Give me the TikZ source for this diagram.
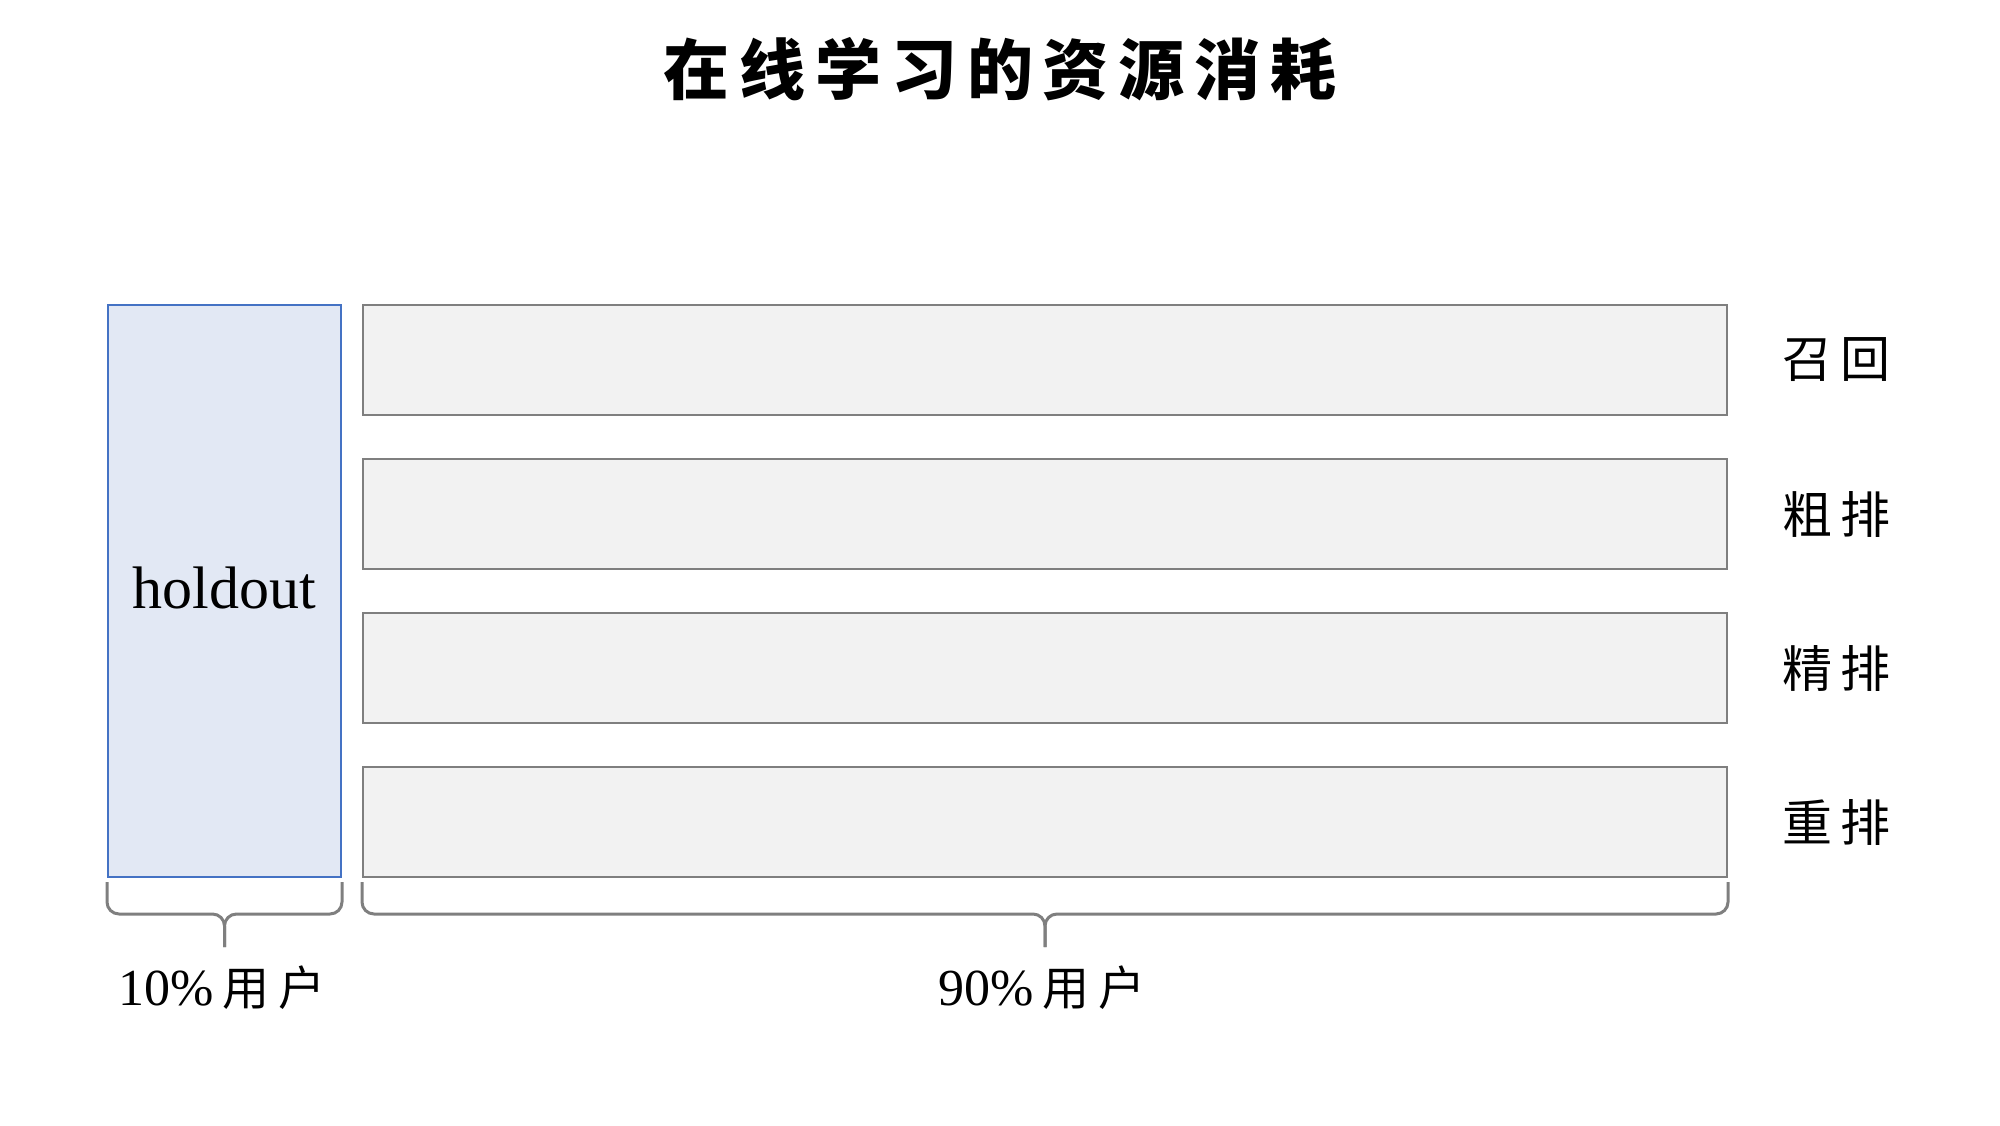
\documentclass[tikz,border=0pt]{standalone}
\usepackage{fontspec}
\setmainfont{Liberation Serif}
\newfontfamily\cjk{Noto Sans CJK SC}
\newfontfamily\cjkwide[LetterSpace=16]{Noto Sans CJK SC}
\newfontfamily\cjkuser[LetterSpace=18]{Noto Sans CJK SC}
\newfontfamily\cjktitle[LetterSpace=15]{Noto Sans CJK SC}
\usepackage{tikz}
\usetikzlibrary{positioning}
\definecolor{holdfill}{HTML}{E2E8F4}
\definecolor{holdline}{HTML}{4472C4}
\definecolor{barfill}{HTML}{F2F2F2}
\definecolor{barline}{HTML}{7F7F7F}
\tikzset{
  % --- boxes -----------------------------------------------------------------
  holdbox/.style={rectangle,draw=holdline,fill=holdfill,line width=1pt,
                  minimum width=116.5pt,minimum height=286pt,inner sep=0pt,
                  font=\fontsize{30pt}{36pt}\selectfont},
  stagebar/.style={rectangle,draw=barline,fill=barfill,line width=1pt,
                   minimum width=682pt,minimum height=55pt,inner sep=0pt},
  % --- texts -----------------------------------------------------------------
  stagelab/.style={inner sep=0pt,font=\fontsize{25pt}{30pt}\cjkwide},
  userlab/.style={inner sep=0pt,font=\fontsize{26pt}{31pt}\selectfont},
  titlelab/.style={inner sep=0pt,font=\fontsize{33pt}{40pt}\cjktitle\bfseries},
  % --- braces under the boxes ------------------------------------------------
  usrbrace/.style={draw=barline,line width=1.5pt,rounded corners=6pt},
}
\begin{document}
\begin{tikzpicture}[x=0.5pt, y=-0.5pt]
  \useasboundingbox (0,0) rectangle (2000,1125);

  \node[titlelab] (title) at (1000,69) {在线学习的资源消耗};

  % --- the holdout share and the four stages ------------------------------
  \node[holdbox] (hold) at (224.5,591) {\raisebox{3pt}{holdout}};
  \foreach \a/\b [count=\i] in {召/回, 粗/排, 精/排, 重/排} {
    \node[stagebar] (stage\i) at (1045,{360+154*(\i-1)}) {};
    \node[stagelab] (lab\i) at (1836,{360+154*(\i-1)}) {\a\b};
  }

  % --- braces: 10% and 90% of the users ------------------------------------
  \draw[usrbrace] ([yshift=-2pt]hold.south west) |- ([yshift=-18pt]hold.south)
    -- ([yshift=-34.5pt]hold.south);
  \draw[usrbrace] ([yshift=-2pt]hold.south east) |- ([yshift=-18pt]hold.south)
    -- ([yshift=-34.5pt]hold.south);
  \draw[usrbrace] ([yshift=-2pt]stage4.south west) |- ([yshift=-18pt]stage4.south)
    -- ([yshift=-34.5pt]stage4.south);
  \draw[usrbrace] ([yshift=-2pt]stage4.south east) |- ([yshift=-18pt]stage4.south)
    -- ([yshift=-34.5pt]stage4.south);

  \node[userlab] (pct10) at (222,988) {10\%\,{\fontsize{23.5pt}{28pt}\cjkuser 用户}};
  \node[userlab] (pct90) at (1042,988) {90\%\,{\fontsize{23.5pt}{28pt}\cjkuser 用户}};
\end{tikzpicture}
\end{document}
